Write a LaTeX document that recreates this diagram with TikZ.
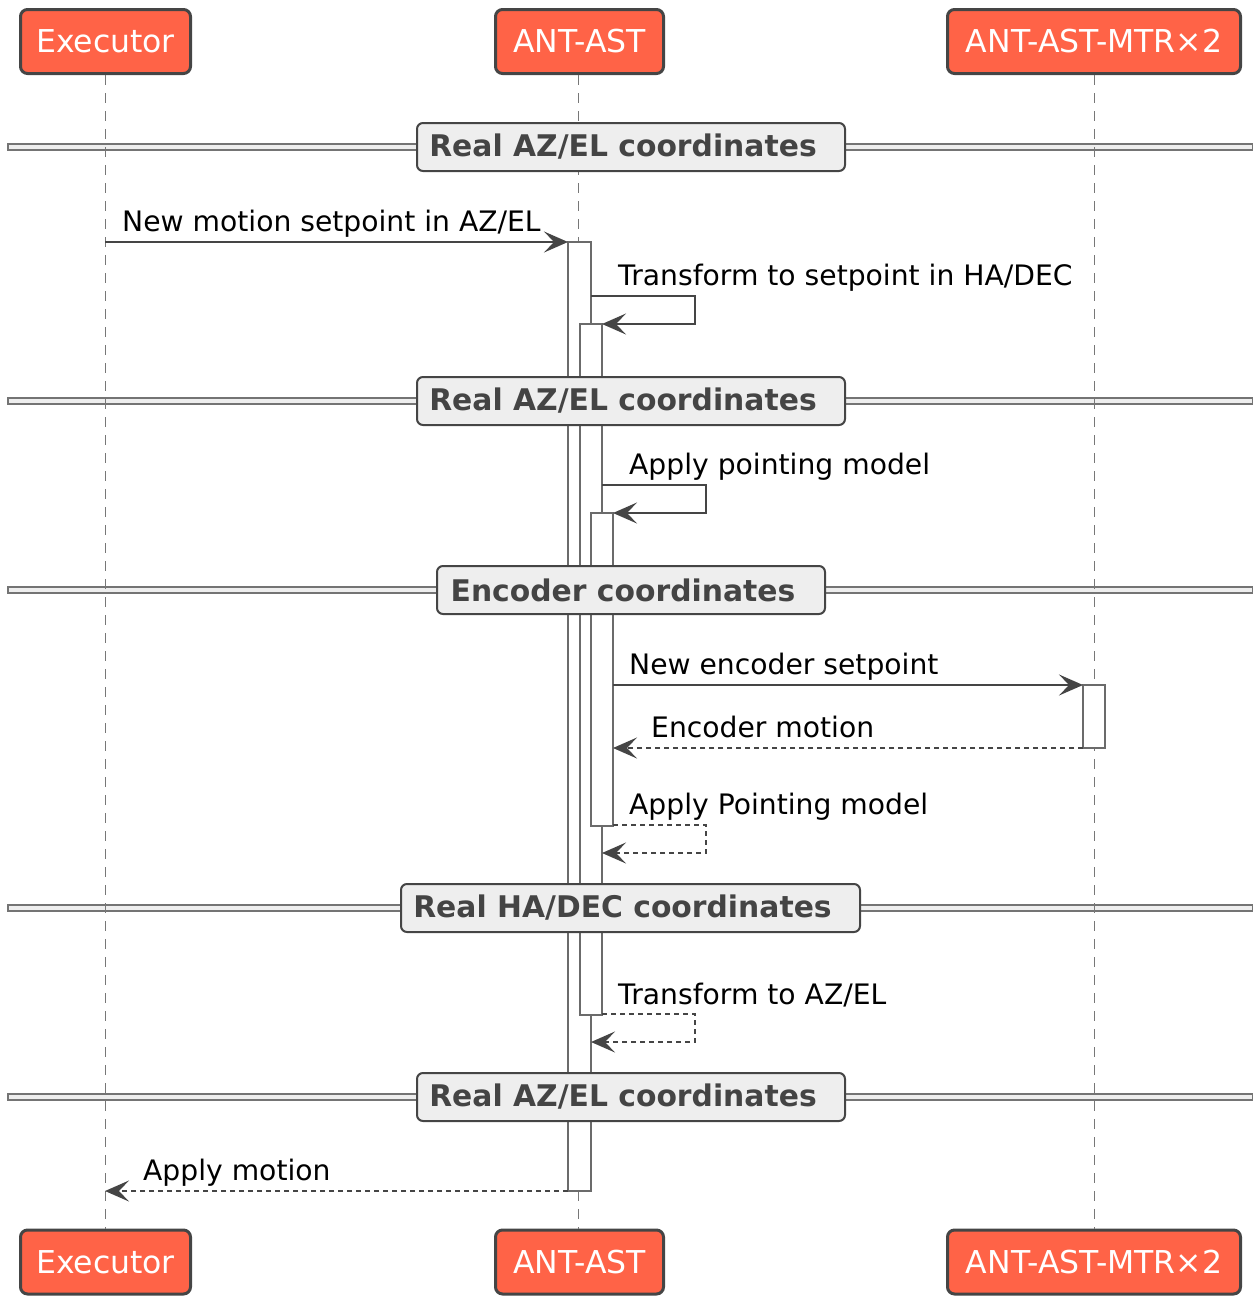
\documentclass[tikz,border=0pt]{standalone}
\usepackage{fontspec}
\setmainfont{DejaVu Sans}
\usetikzlibrary{arrows.meta}
\definecolor{partfill}{HTML}{FF6347}
\definecolor{edge}{HTML}{454545}
\definecolor{actline}{HTML}{6B6B6B}
\definecolor{lifeline}{HTML}{777777}
\definecolor{divfill}{HTML}{EEEEEE}
\definecolor{divtext}{HTML}{444444}
\begin{document}
\begin{tikzpicture}[x=1pt,y=-1pt,
  part/.style={draw=edge, line width=3pt, fill=partfill, rounded corners=7pt,
    text=white, font=\fontsize{31.5}{36}\selectfont, inner sep=0pt, minimum height=64pt},
  life/.style={draw=lifeline, line width=1pt, dash pattern=on 10pt off 8pt},
  divline/.style={draw=edge!75, fill=divfill, line width=1.2pt},
  divbox/.style={draw=edge, line width=2pt, fill=divfill, rounded corners=6pt,
    text=divtext, font=\bfseries\fontsize{29.8}{34}\selectfont, inner sep=0pt, minimum height=48pt},
  actbox/.style={draw=actline, line width=2pt, fill=white},
  msg/.style={draw=edge, line width=1.8pt, -{Stealth[length=24pt,width=21pt,inset=10pt]}},
  ret/.style={msg, dash pattern=on 5pt off 4pt},
  lab/.style={anchor=base west, font=\fontsize{28.2}{34}\selectfont, inner sep=0pt}
]
\useasboundingbox (0,0) rectangle (1253,1296);

% participants, top and bottom
\node[part, minimum width=170pt] (exeT) at (105.5,41.5) {Executor};
\node[part, minimum width=168pt] (astT) at (579.5,41.5) {ANT-AST};
\node[part, minimum width=293pt] (mtrT) at (1094,41.5) {ANT-AST-MTR×2};
\node[part, minimum width=170pt] (exeB) at (105.5,1262) {Executor};
\node[part, minimum width=168pt] (astB) at (579.5,1262) {ANT-AST};
\node[part, minimum width=293pt] (mtrB) at (1094,1262) {ANT-AST-MTR×2};

% divider bars
\foreach \y in {147,401,590,908,1097}
  \draw[divline] (8,\y-3) rectangle (1253,\y+3);

% lifelines
\draw[life] (exeT.south -| 105,0) -- (exeB.north -| 105,0);
\draw[life] (astT.south -| 578.5,0) -- (astB.north -| 578.5,0);
\draw[life] (mtrT.south) -- (mtrB.north);

% activations
\draw[actbox] (568,242) rectangle (591,1191);
\draw[actbox] (580,324) rectangle (602,1015);
\draw[actbox] (591,513) rectangle (613,826);
\draw[actbox] (1083,685) rectangle (1105,748);

% divider labels
\node[divbox, minimum width=428pt] (d1) at (631,147) {Real AZ/EL coordinates\hspace*{16pt}};
\node[divbox, minimum width=428pt] (d2) at (631,401) {Real AZ/EL coordinates\hspace*{16pt}};
\node[divbox, minimum width=388pt] (d3) at (631,590) {Encoder coordinates\hspace*{16pt}};
\node[divbox, minimum width=459pt] (d4) at (630.5,908) {Real HA/DEC coordinates\hspace*{16pt}};
\node[divbox, minimum width=428pt] (d5) at (631,1097) {Real AZ/EL coordinates\hspace*{16pt}};

% message end points
\coordinate (m1a) at (105,242);  \coordinate (m1b) at (568,242);
\coordinate (m2a) at (591,296);  \coordinate (m2b) at (602,324);
\coordinate (m3a) at (602,485);  \coordinate (m3b) at (613,513);
\coordinate (m4a) at (613,685);  \coordinate (m4b) at (1083,685);
\coordinate (m5a) at (1083,748); \coordinate (m5b) at (613,748);
\coordinate (m6a) at (613,825);  \coordinate (m6b) at (602,853);
\coordinate (m7a) at (602,1014); \coordinate (m7b) at (591,1042);
\coordinate (m8a) at (568,1191); \coordinate (m8b) at (105,1191);

% messages
\draw[msg] (m1a) -- (m1b);
\draw[msg] (m2a) -- ++(104,0) |- (m2b);
\draw[msg] (m3a) -- ++(104,0) |- (m3b);
\draw[msg] (m4a) -- (m4b);
\draw[ret] (m5a) -- (m5b);
\draw[ret] (m6a) -- ++(93,0) |- (m6b);
\draw[ret] (m7a) -- ++(93,0) |- (m7b);
\draw[ret] (m8a) -- (m8b);

% message labels
\node[lab] (l1) at (122,231) {New motion setpoint in AZ/EL};
\node[lab] (l2) at (618,285) {Transform to setpoint in HA/DEC};
\node[lab] (l3) at (629,474) {Apply pointing model};
\node[lab] (l4) at (629,674) {New encoder setpoint};
\node[lab] (l5) at (651,737) {Encoder motion};
\node[lab] (l6) at (629,814) {Apply Pointing model};
\node[lab] (l7) at (618,1004) {Transform to AZ/EL};
\node[lab] (l8) at (143,1180) {Apply motion};
\end{tikzpicture}
\end{document}
